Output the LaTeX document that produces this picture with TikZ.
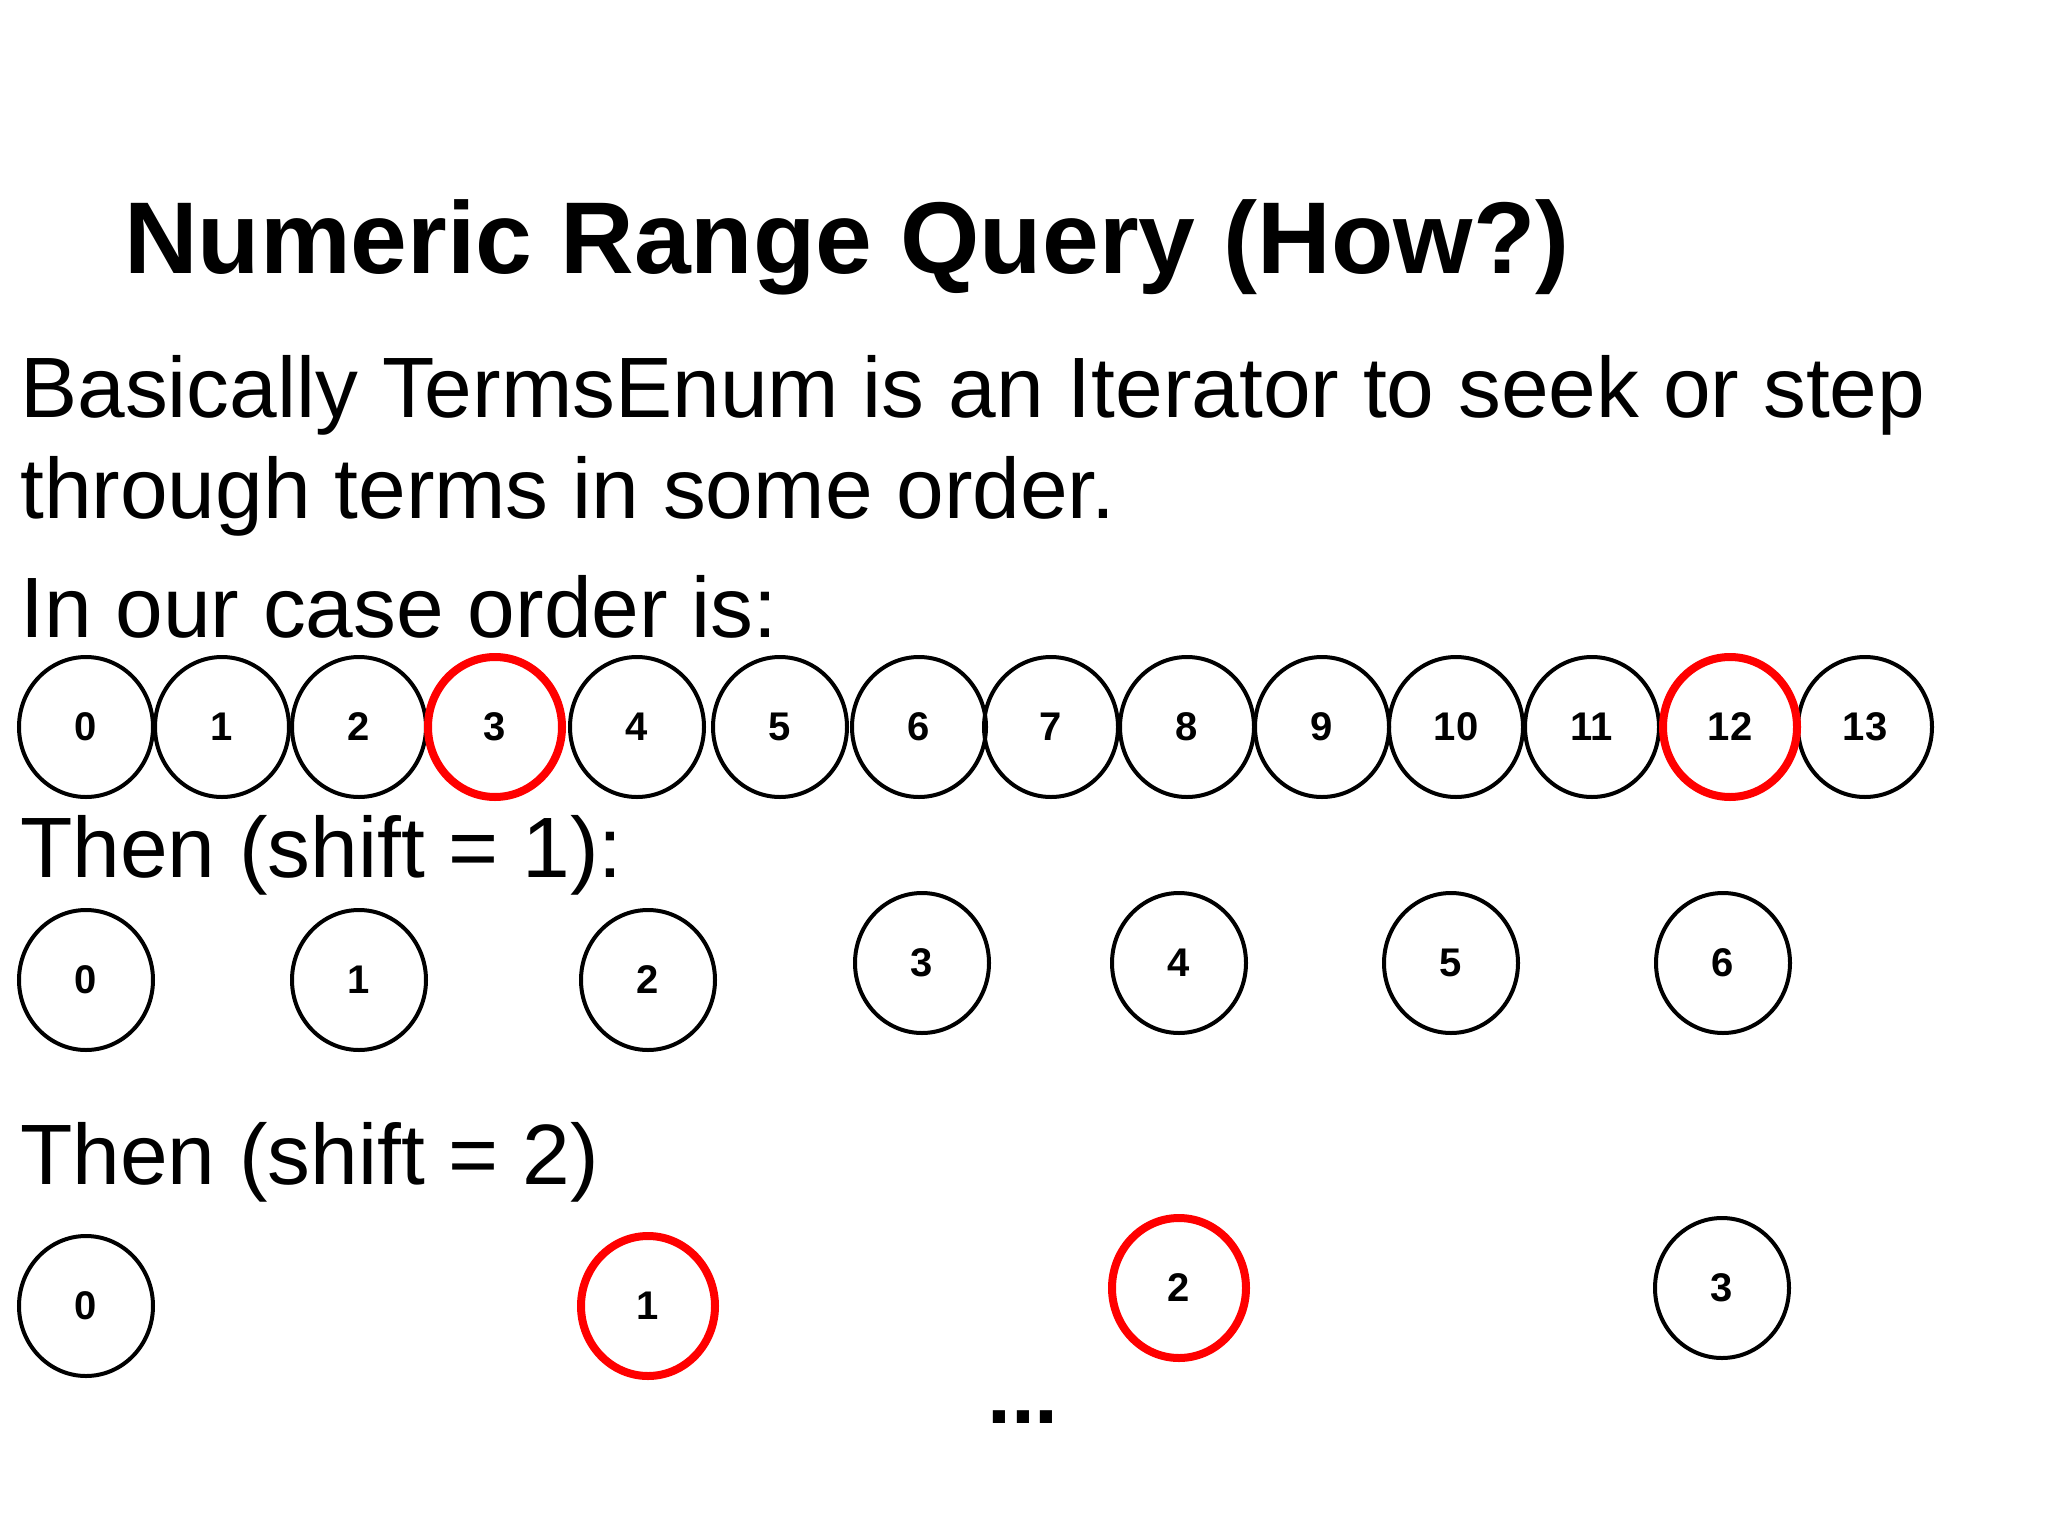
\documentclass[tikz,border=0pt]{standalone}
\usepackage{fontspec}
\setmainfont{Liberation Sans}
\usetikzlibrary{shapes.geometric}
\begin{document}
\begin{tikzpicture}[x=1pt,y=-1pt,
  ring/.style={ellipse, draw=black, line width=4pt, minimum width=134pt, minimum height=140pt, inner sep=0pt, font=\fontsize{40}{42}\selectfont\bfseries},
  redring/.style={ring, draw=red, line width=8pt},
  txt/.style={anchor=base west, inner sep=0pt, font=\fontsize{85.7}{100}\selectfont}]
\useasboundingbox[fill=white] (0,0) rectangle (2048,1536);
\node[anchor=base west, inner sep=0pt, font=\fontsize{102}{120}\selectfont\bfseries] (title) at (124,273) {Numeric Range Query (How?)};
\node[txt] (l1) at (20,417) {Basically TermsEnum is an Iterator to seek or step};
\node[txt] (l2) at (20,518) {through terms in some order.};
\node[txt] (l3) at (20,637) {In our case order is:};
\node[txt] (l4) at (20,877) {Then (shift = 1):};
\node[txt] (l5) at (20,1184) {Then (shift = 2)};
% full order
\foreach \x/\n in {86/0,222/1,359/2,637/4,780/5,919/6,1051/7,1187/8,1322/9,1456/10,1592/11,1865/13}
  \node[ring] (a\n) at (\x,727) {\n};
\node[redring] (a3) at (495,727) {3};
\node[redring] (a12) at (1730,727) {12};
% shift 1
\foreach \x/\y/\n in {86/980/0,359/980/1,648/980/2,922/963/3,1179/963/4,1451/963/5,1723/963/6}
  \node[ring] (b\n) at (\x,\y) {\n};
% shift 2
\node[ring] (c0) at (86,1306) {0};
\node[redring] (c1) at (648,1306) {1};
\node[redring] (c2) at (1179,1288) {2};
\node[ring] (c3) at (1722,1288) {3};
\node[anchor=base, inner sep=0pt, font=\fontsize{86}{90}\selectfont\bfseries] (dots) at (1023,1423) {...};
\end{tikzpicture}
\end{document}
